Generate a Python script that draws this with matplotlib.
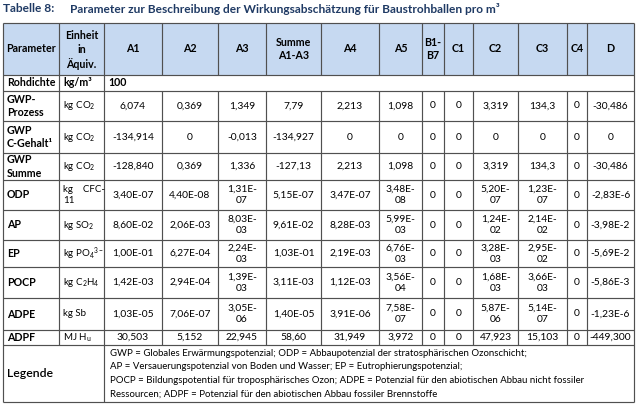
import re
import matplotlib
matplotlib.use("Agg")
import matplotlib.pyplot as plt
from matplotlib.patches import Rectangle

plt.rcParams['font.family'] = ['Lato', 'DejaVu Sans']
plt.rcParams['mathtext.fontset'] = 'custom'
plt.rcParams['mathtext.rm'] = 'Lato'
plt.rcParams['mathtext.it'] = 'Lato:italic'
plt.rcParams['mathtext.bf'] = 'Lato:bold'

title_no = "Tabelle 8:"
title = "Parameter zur Beschreibung der Wirkungsabschätzung für Baustrohballen pro m³"

columns = ["A1", "A2", "A3", "Summe\nA1-A3", "A4", "A5", "B1-\nB7", "C1", "C2", "C3", "C4", "D"]

params = ["GWP-\nProzess", "GWP\nC-Gehalt¹", "GWP\nSumme", "ODP", "AP", "EP",
          "POCP", "ADPE", "ADPF"]
units = [r"kg CO$_2$", r"kg CO$_2$", r"kg CO$_2$", "kg    CFC-\n11", r"kg SO$_2$",
         r"kg PO$_4{}^{3-}$", r"kg C$_2$H$_4$", "kg Sb", r"MJ H$_\mathrm{u}$"]

gwp_prozess = ["6,074", "0,369", "1,349", "7,79", "2,213", "1,098", "0", "0", "3,319", "134,3", "0", "-30,486"]
gwp_cgehalt = ["-134,914", "0", "-0,013", "-134,927", "0", "0", "0", "0", "0", "0", "0", "0"]
gwp_summe = ["-128,840", "0,369", "1,336", "-127,13", "2,213", "1,098", "0", "0", "3,319", "134,3", "0", "-30,486"]
odp = ["3,40E-07", "4,40E-08", "1,31E-07", "5,15E-07", "3,47E-07", "3,48E-08", "0", "0", "5,20E-07", "1,23E-07", "0", "-2,83E-6"]
ap = ["8,60E-02", "2,06E-03", "8,03E-03", "9,61E-02", "8,28E-03", "5,99E-03", "0", "0", "1,24E-02", "2,14E-02", "0", "-3,98E-2"]
ep = ["1,00E-01", "6,27E-04", "2,24E-03", "1,03E-01", "2,19E-03", "6,76E-03", "0", "0", "3,28E-03", "2,95E-02", "0", "-5,69E-2"]
pocp = ["1,42E-03", "2,94E-04", "1,39E-03", "3,11E-03", "1,12E-03", "3,56E-04", "0", "0", "1,68E-03", "3,66E-03", "0", "-5,86E-3"]
adpe = ["1,03E-05", "7,06E-07", "3,05E-06", "1,40E-05", "3,91E-06", "7,58E-07", "0", "0", "5,87E-06", "5,14E-07", "0", "-1,23E-6"]
adpf = ["30,503", "5,152", "22,945", "58,60", "31,949", "3,972", "0", "0", "47,923", "15,103", "0", "-449,300"]
rows = [gwp_prozess, gwp_cgehalt, gwp_summe, odp, ap, ep, pocp, adpe, adpf]

rohdichte = "100"

legend = ["GWP = Globales Erwärmungspotenzial; ODP = Abbaupotenzial der stratosphärischen Ozonschicht;",
          "AP = Versauerungspotenzial von Boden und Wasser; EP = Eutrophierungspotenzial;",
          "POCP = Bildungspotential für troposphärisches Ozon; ADPE = Potenzial für den abiotischen Abbau nicht fossiler",
          "Ressourcen; ADPF = Potenzial für den abiotischen Abbau fossiler Brennstoffe"]

# layout in pixels
xs = [3, 59, 104, 162, 218, 266, 321, 379, 422, 444, 473, 518, 567, 587, 634]
ys = [23, 75, 91, 121, 153, 180, 210, 240, 267, 298, 330, 345, 402]
line_c = '#505050'
head_bg = '#c6d9f1'
title_c = '#1f3a64'
fs = 7.4

fig = plt.figure(figsize=(6.41, 4.08), dpi=100)
ax = fig.add_axes([0, 0, 1, 1])
ax.set_xlim(0, 641)
ax.set_ylim(408, 0)
ax.axis('off')

ax.text(3, 9, title_no, fontsize=8.6, fontweight='bold', color=title_c, va='center')
ax.text(70, 9, title, fontsize=8.6, fontweight='bold', color=title_c, va='center')

# header
ax.add_patch(Rectangle((xs[0], ys[0]), xs[-1] - xs[0], ys[1] - ys[0], color=head_bg, lw=0))
hy = (ys[0] + ys[1]) / 2
ax.text((xs[0] + xs[1]) / 2, hy, "Parameter", fontsize=fs + 0.3, fontweight='bold', ha='center', va='center')
ax.text((xs[1] + xs[2]) / 2, hy + 1, "Einheit\nin\nÄquiv.", fontsize=fs + 0.3, fontweight='bold',
        ha='center', va='center', linespacing=1.3)
for i, c in enumerate(columns):
    ax.text((xs[i + 2] + xs[i + 3]) / 2, hy, c, fontsize=fs + 0.3, fontweight='bold',
            ha='center', va='center', linespacing=1.3)

# Rohdichte row
ry = (ys[1] + ys[2]) / 2
ax.text(xs[0] + 4, ry, "Rohdichte", fontsize=fs + 0.3, fontweight='bold', va='center')
ax.text(xs[1] + 4, ry, "kg/m³", fontsize=fs + 0.3, fontweight='bold', va='center')
ax.text(xs[2] + 4, ry, rohdichte, fontsize=fs + 0.3, fontweight='bold', va='center')

# data rows
for r, (p, u, vals) in enumerate(zip(params, units, rows)):
    y0, y1 = ys[r + 2], ys[r + 3]
    cy = (y0 + y1) / 2
    ax.text(xs[0] + 4, cy, p, fontsize=fs + 0.3, fontweight='bold', va='center', linespacing=1.3)
    ax.text(xs[1] + 4, cy, u, fontsize=fs - 0.4, va='center', linespacing=1.3)
    for i, v in enumerate(vals):
        w = xs[i + 3] - xs[i + 2]
        if w < 50 and re.search(r"E-\d\d$", v):
            v = v.replace("E-", "E-\n")
        ax.text((xs[i + 2] + xs[i + 3]) / 2, cy, v, fontsize=fs, ha='center', va='center',
                linespacing=1.3)

# legend row
ly0, ly1 = ys[-2], ys[-1]
ax.text(xs[0] + 4, (ly0 + ly1) / 2, "Legende", fontsize=8.8, fontweight='semibold', va='center')
step = (ly1 - ly0) / (len(legend) + 0.2)
for k, t in enumerate(legend):
    ax.text(xs[2] + 6, ly0 + step * (k + 0.6), t, fontsize=6.95, va='center')

# grid lines
lw = 0.85
ax.hlines(ys, xs[0], xs[-1], color=line_c, lw=lw)
ax.vlines([xs[0], xs[-1]], ys[0], ys[-1], color=line_c, lw=lw)
ax.vlines(xs[1:-1], ys[0], ys[1], color=line_c, lw=lw)
ax.vlines(xs[1:3], ys[1], ys[2], color=line_c, lw=lw)
ax.vlines(xs[1:-1], ys[2], ys[-2], color=line_c, lw=lw)
ax.vlines(xs[2], ys[-2], ys[-1], color=line_c, lw=lw)

fig.savefig("out.png", dpi=100)
